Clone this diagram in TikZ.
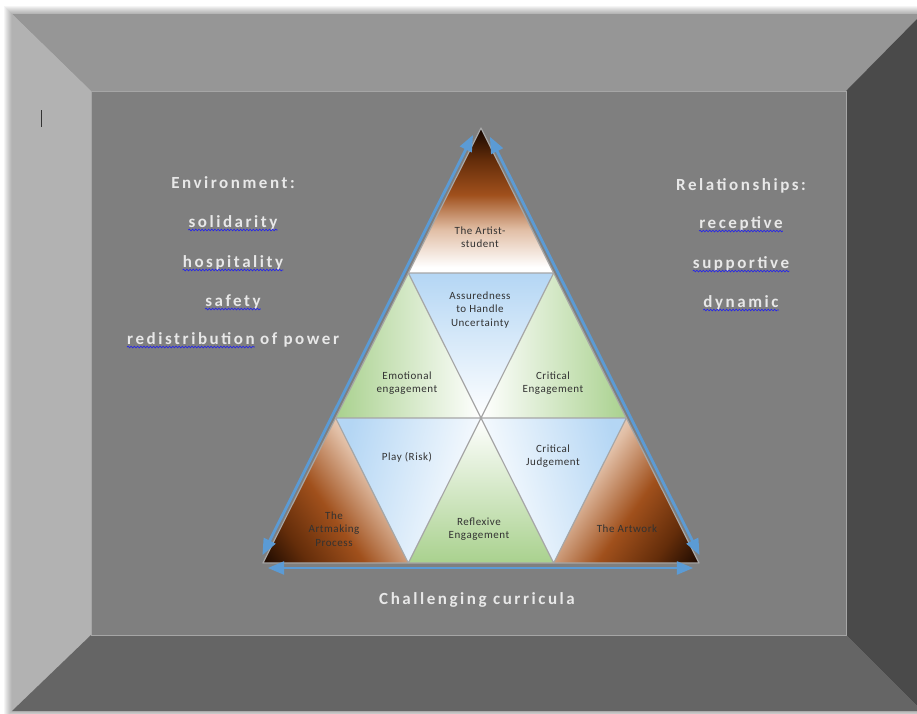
\documentclass[tikz,border=0pt]{standalone}
\usepackage{fontspec}
\setmainfont{Carlito}
\newfontfamily\sidefont[LetterSpace=15]{Carlito}
\newfontfamily\cellfont[LetterSpace=5]{Carlito}
\usetikzlibrary{arrows, calc, decorations.pathmorphing}

\definecolor{bevtop}{RGB}{150,150,150}
\definecolor{bevleft}{RGB}{178,178,178}
\definecolor{bevright}{RGB}{74,74,74}
\definecolor{bevbot}{RGB}{101,101,101}
\definecolor{wall}{RGB}{127,127,127}
\definecolor{edge}{RGB}{166,166,166}
\definecolor{arrowblue}{RGB}{91,155,213}
\definecolor{squigblue}{RGB}{40,40,230}
\definecolor{sidetext}{RGB}{232,232,232}
\definecolor{celltext}{RGB}{50,50,50}
\definecolor{brblack}{RGB}{20,6,0}
\definecolor{brdark}{RGB}{100,45,10}
\definecolor{brmid}{RGB}{160,80,28}
\definecolor{brlight}{RGB}{225,190,165}
\definecolor{leaf}{RGB}{169,209,142}
\definecolor{sky}{RGB}{180,214,244}

\pgfdeclareverticalshading{brownfade}{100bp}{color(0bp)=(white); color(27bp)=(white); color(40bp)=(brlight); color(52bp)=(brmid); color(64bp)=(brdark); color(75bp)=(brblack); color(100bp)=(brblack)}
\pgfdeclareverticalshading{cornerfade}{100bp}{color(0bp)=(white); color(22bp)=(white); color(38bp)=(brlight); color(56bp)=(brmid); color(72bp)=(brdark); color(86bp)=(brblack); color(100bp)=(brblack)}
\pgfdeclareverticalshading{greenfade}{100bp}{color(0bp)=(white); color(25bp)=(white); color(75bp)=(leaf); color(100bp)=(leaf)}
\pgfdeclareverticalshading{bluefade}{100bp}{color(0bp)=(white); color(25bp)=(white); color(75bp)=(sky); color(100bp)=(sky)}

\tikzset{
  cellline/.style={draw=edge, line width=1.2pt, line join=round},
  sidearrow/.style={draw=arrowblue, line width=2.8pt, <->, >=triangle 45},
  sidelabel/.style={font=\sidefont\bfseries\fontsize{17}{20}\selectfont, text=sidetext, inner sep=0pt, anchor=base},
  celllabel/.style={font=\cellfont\fontsize{11}{13.3}\selectfont, text=celltext, align=center, inner sep=0pt},
  squiggle/.style={draw=squigblue, line width=0.7pt, decorate, decoration={snake, amplitude=0.8pt, segment length=3.2pt}}
}

\begin{document}
\begin{tikzpicture}[x=1pt, y=-1pt]
\useasboundingbox (0,0) rectangle (917,713);
\fill[white] (0,0) rectangle (917,713);

% soft shadow round the frame
\foreach \s in {1,...,8}
  \fill[black, opacity=0.04] ({12-\s},{14-\s}) rectangle ({922+\s},{711+\s});

% bevelled frame
\fill[bevtop] (12,14) -- (922,14) -- (846,91) -- (91,91) -- cycle;
\fill[bevleft] (12,14) -- (91,91) -- (91,635) -- (12,711) -- cycle;
\fill[bevright] (922,14) -- (846,91) -- (846,635) -- (922,711) -- cycle;
\fill[bevbot] (12,711) -- (91,635) -- (846,635) -- (922,711) -- cycle;
\filldraw[fill=wall, draw=edge, line width=0.8pt] (91,91) rectangle (846,635);
\draw[black!80, line width=0.8pt] (41,110) -- (41,127);

% triangle grid
\coordinate (T) at (481,128);
\coordinate (L) at (263,563);
\coordinate (R) at (699,563);
\coordinate (P1) at ($(T)!1/3!(L)$);
\coordinate (P2) at ($(T)!2/3!(L)$);
\coordinate (Q1) at ($(T)!1/3!(R)$);
\coordinate (Q2) at ($(T)!2/3!(R)$);
\coordinate (B1) at ($(L)!1/3!(R)$);
\coordinate (B2) at ($(L)!2/3!(R)$);
\coordinate (M) at ($(P2)!1/2!(Q2)$);

\shade[shading=brownfade] (T) -- (P1) -- (Q1) -- cycle;
\shade[shading=greenfade, shading angle=90] (P1) -- (P2) -- (M) -- cycle;
\shade[shading=bluefade] (P1) -- (Q1) -- (M) -- cycle;
\shade[shading=greenfade, shading angle=-90] (Q1) -- (M) -- (Q2) -- cycle;
\shade[shading=cornerfade, shading angle=125] (P2) -- (L) -- (B1) -- cycle;
\shade[shading=bluefade, shading angle=75] (P2) -- (M) -- (B1) -- cycle;
\shade[shading=greenfade, shading angle=180] (M) -- (B1) -- (B2) -- cycle;
\shade[shading=bluefade, shading angle=-75] (M) -- (Q2) -- (B2) -- cycle;
\shade[shading=cornerfade, shading angle=-125] (Q2) -- (B2) -- (R) -- cycle;

\draw[cellline] (T) -- (L) -- (R) -- cycle;
\draw[cellline] (P1) -- (Q1) (P2) -- (Q2) (P1) -- (B2) (Q1) -- (B1) (P2) -- (B1) (Q2) -- (B2);

\draw[sidearrow, shorten <=7pt, shorten >=10pt, transform canvas={shift={(-3.6,-1.8)}}] (L) -- (T);
\draw[sidearrow, shorten <=12pt, shorten >=7pt, transform canvas={shift={(3.6,-1.8)}}] (T) -- (R);
\draw[sidearrow, shorten <=5pt, shorten >=6pt, transform canvas={shift={(0,5)}}] (L) -- (R);

\node[celllabel] (artist) at (480,237) {The Artist-\\student};
\node[celllabel] (assured) at (480,310) {Assuredness\\to Handle\\Uncertainty};
\node[celllabel] (emot) at (407,383) {Emotional\\engagement};
\node[celllabel] (criteng) at (553,383) {Critical\\Engagement};
\node[celllabel] (play) at (407,457) {Play (Risk)};
\node[celllabel] (critjudge) at (553,456) {Critical\\Judgement};
\node[celllabel] (process) at (334,529) {The\\Artmaking\\Process};
\node[celllabel] (reflex) at (479,529) {Reflexive\\Engagement};
\node[celllabel] (artwork) at (627,529) {The Artwork};

% side lists
\node[sidelabel] (env) at (233,188) {Environment:};
\node[sidelabel] (soli) at (233,227) {solidarity};
\node[sidelabel] (hosp) at (233,267) {hospitality};
\node[sidelabel] (safe) at (233,306) {safety};
\node[sidelabel, anchor=base west] (redist) at (127,344) {redistribution};
\node[sidelabel, anchor=base west] (power) at ([xshift=5pt]redist.base east) {of power};

\node[sidelabel] (rel) at (741,190) {Relationships:};
\node[sidelabel] (recep) at (741,228) {receptive};
\node[sidelabel] (supp) at (741,268) {supportive};
\node[sidelabel] (dyn) at (741,307) {dynamic};

\node[sidelabel] (curr) at (477,604) {Challenging curricula};

\foreach \w in {soli, hosp, safe, redist, recep, supp, dyn}
  \draw[squiggle] ([yshift=-3pt]\w.base west) -- ([yshift=-3pt]\w.base east);
\end{tikzpicture}
\end{document}
